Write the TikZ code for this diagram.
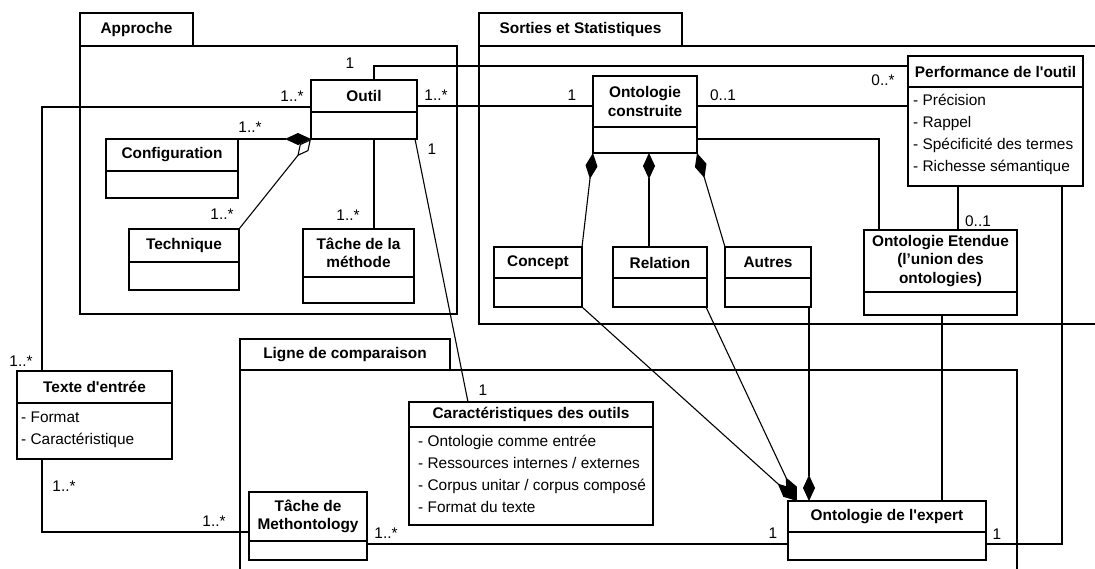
\documentclass[tikz,border=0pt]{standalone}
\usepackage{fontspec}
\setmainfont{Liberation Sans}[Ligatures=TeXOff]
\usetikzlibrary{arrows.meta}
\tikzset{
  pkg/.style={draw, line width=2.7pt, inner sep=0pt, outer sep=0pt},
  pkgtab/.style={draw, line width=2.7pt, font=\fontsize{15.4}{18}\selectfont\bfseries, inner sep=0pt, outer sep=0pt},
  clsbox/.style={draw, line width=1.3pt, fill=white, inner sep=0pt, outer sep=0pt},
  divider/.style={line width=2.3pt},
  clstitle/.style={font=\fontsize{15.4}{18.5}\selectfont\bfseries, align=center, inner sep=0pt},
  attr/.style={font=\fontsize{15.4}{18}\selectfont, inner sep=0pt, anchor=base west},
  mult/.style={font=\fontsize{15.4}{18}\selectfont, inner sep=0pt},
  conn/.style={line width=1.1pt},
  comp/.style={conn, {Diamond[length=26pt,width=12pt]}-},
  agg/.style={conn, {Diamond[open,length=22pt,width=11pt]}-},
}
\newcommand{\umlclass}[7]{%
  \node[clsbox, minimum width={(#4-#2)*1pt}, minimum height={(#5-#3)*1pt}] (#1) at ({(#2+#4)/2},{(#3+#5)/2}) {};
  \draw[divider] (#1.west |- 0,#6) -- (#1.east |- 0,#6);
  \node[clstitle] (#1-t) at ({(#2+#4)/2},{(#3+#6)/2}) {#7};
}
\begin{document}
\begin{tikzpicture}[x=1pt,y=-1pt]
\useasboundingbox (0,0) rectangle (1095,568);
\clip (0,0) rectangle (1095,568);
\fill[white] (0,0) rectangle (1095,568);

% packages
\node[pkgtab, minimum width=113pt, minimum height=33pt] (approche-tab) at (136.5,29.5) {Approche};
\node[pkg, minimum width=377pt, minimum height=268pt] (approche) at (268.5,180) {};
\node[pkgtab, minimum width=203pt, minimum height=33pt] (sorties-tab) at (580.5,29.5) {Sorties et Statistiques};
\node[pkg, minimum width=631pt, minimum height=278pt] (sorties) at (794.5,185) {};
\node[pkgtab, minimum width=210pt, minimum height=31pt] (ligne-tab) at (345,354.5) {Ligne de comparaison};
\node[pkg, minimum width=777pt, minimum height=210pt] (ligne) at (628.5,475) {};

% classes
\umlclass{outil}{311}{80}{417}{139}{112}{Outil}
\umlclass{config}{106}{139}{238}{198}{171}{Configuration}
\umlclass{tech}{129}{229}{239}{290}{262}{Technique}
\umlclass{tachem}{303}{229}{414}{303}{277}{Tâche de la\\méthode}
\umlclass{ontoc}{593}{76}{697}{153}{127}{Ontologie\\construite}
\umlclass{perf}{908}{56}{1083}{186}{87}{Performance de l'outil}
\umlclass{concept}{494}{247}{582}{307}{278}{Concept}
\umlclass{relation}{613}{247}{707}{307}{278}{Relation}
\umlclass{autres}{725}{247}{811}{307}{278}{Autres}
\umlclass{ontoe}{864}{230}{1017}{315}{292}{Ontologie Etendue\\(l’union des\\ontologies)}
\umlclass{texte}{17}{371}{172}{459}{403}{Texte d'entrée}
\umlclass{carac}{409}{402}{653}{525}{427}{Caractéristiques des outils}
\umlclass{tachemeth}{249}{492}{367}{560}{541}{Tâche de\\Methontology}
\umlclass{ontoex}{788}{501}{986}{560}{532}{Ontologie de l'expert}

% attributes
\foreach \t [count=\i] in {- Précision, - Rappel, - Spécificité des termes, - Richesse sémantique}
  \node[attr] (perf-a\i) at (913,{105.5+22*(\i-1)}) {\t};
\foreach \t [count=\i] in {- Format, - Caractéristique}
  \node[attr] (texte-a\i) at (21,{422.5+22*(\i-1)}) {\t};
\foreach \t [count=\i] in {- Ontologie comme entrée, - Ressources internes / externes, - Corpus unitar / corpus composé, - Format du texte}
  \node[attr] (carac-a\i) at (418,{446.5+22*(\i-1)}) {\t};

% connectors
\draw[conn] (outil.west |- 0,107) -| ([xshift=25pt]texte.north west);
\draw[conn] ([xshift=63pt]outil.north west) |- (perf.west |- 0,66);
\draw[conn] (outil.east |- 0,106) -- (ontoc.west |- 0,106);
\draw[conn] (ontoc.east |- 0,106) -- (perf.west |- 0,106);
\draw[conn] (ontoc.east |- 0,139) -| ([xshift=15pt]ontoe.north west);
\draw[conn] ([xshift=50pt]perf.south west) -- ([xshift=94pt]ontoe.north west);
\draw[conn] ([xshift=154pt]perf.south west) |- (ontoex.east |- 0,544);
\draw[comp] (outil.south west) -- (config.north east);
\draw[agg] (outil.south west) -- (tech.north east);
\draw[conn] ([xshift=63pt]outil.south west) -- ([xshift=71pt]tachem.north west);
\draw[conn] ([xshift=-2pt]outil.south east) -- ([xshift=59pt]carac.north west);
\draw[comp] (ontoc.south west) -- (concept.north east);
\draw[comp] ([xshift=56pt]ontoc.south west) -- ([xshift=36pt]relation.north west);
\draw[comp] (ontoc.south east) -- (autres.north west);
\draw[comp] ([xshift=9pt]ontoex.north west) -- (concept.south east);
\draw[comp] ([xshift=9pt]ontoex.north west) -- ([xshift=-1pt]relation.south east);
\draw[comp] ([xshift=21pt]ontoex.north west) -- ([xshift=-2pt]autres.south east);
\draw[conn] ([xshift=78pt]ontoe.south west) -- ([xshift=154pt]ontoex.north west);
\draw[conn] ([xshift=25pt]texte.south west) |- (tachemeth.west |- 0,532);
\draw[conn] (tachemeth.east |- 0,544) -- (ontoex.west |- 0,544);

% multiplicities
\node[mult] (m1) at (350,63) {1};
\node[mult] (m2) at (292,96) {1..*};
\node[mult] (m3) at (250,127) {1..*};
\node[mult] (m4) at (222,214) {1..*};
\node[mult] (m5) at (348,215) {1..*};
\node[mult] (m6) at (432,149) {1};
\node[mult] (m7) at (436,95) {1..*};
\node[mult] (m8) at (572,95) {1};
\node[mult] (m9) at (723,95) {0..1};
\node[mult] (m10) at (883,80) {0..*};
\node[mult] (m11) at (978,221) {0..1};
\node[mult] (m12) at (21,361) {1..*};
\node[mult] (m13) at (64,486) {1..*};
\node[mult] (m14) at (214,521) {1..*};
\node[mult] (m15) at (483,390) {1};
\node[mult] (m16) at (386,533) {1..*};
\node[mult] (m17) at (773,533) {1};
\node[mult] (m18) at (997,534) {1};
\end{tikzpicture}
\end{document}
